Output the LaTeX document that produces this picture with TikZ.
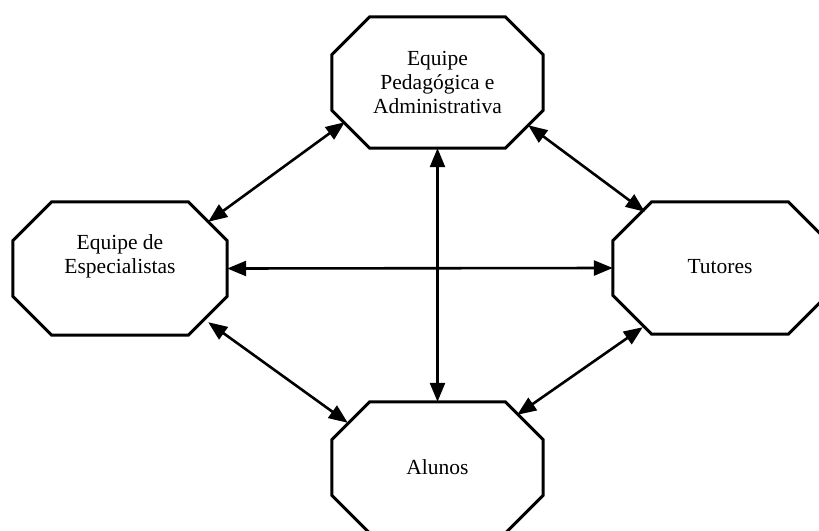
\documentclass[tikz,border=0pt]{standalone}
\usepackage{fontspec}
\setmainfont{Liberation Serif}
\usetikzlibrary{arrows.meta,calc}
\tikzset{
  box/.style={draw=none, rectangle, inner sep=0pt, align=center,
    font=\fontsize{21.5}{24}\selectfont},
  octo/.style={line width=3pt, line join=miter},
  arr/.style={line width=2.6pt, {Triangle[length=19pt,width=15pt]}-{Triangle[length=19pt,width=15pt]}},
}
\newcommand\octagonbox[2]{%
  \draw[octo] ([xshift=#2]#1.north west) -- ([xshift=-#2]#1.north east)
    -- ([yshift=-#2]#1.north east) -- ([yshift=#2]#1.south east)
    -- ([xshift=-#2]#1.south east) -- ([xshift=#2]#1.south west)
    -- ([yshift=#2]#1.south west) -- ([yshift=-#2]#1.north west) -- cycle;}
\begin{document}
\begin{tikzpicture}[x=1pt,y=-1pt]
\useasboundingbox (0,0) rectangle (819,530);
\clip (0,0) rectangle (819,530);
\node[box, minimum width=211pt, minimum height=131pt] (top) at (437.5,82.5) {};
\node[box, minimum width=214pt, minimum height=133pt] (left) at (120,268.5) {};
\node[box, minimum width=214pt, minimum height=132pt] (right) at (720,268) {};
\node[box, minimum width=211pt, minimum height=131pt] (bot) at (437.5,467.5) {};
\octagonbox{top}{38pt}
\octagonbox{left}{39pt}
\octagonbox{right}{39pt}
\octagonbox{bot}{38pt}
\node[box] (ttop) at (437.5,82) {Equipe\\Pedagógica e\\Administrativa};
\node[box] (tleft) at (120,256) {Equipe de\\Especialistas};
\node[box] (tright) at (720,267) {Tutores};
\node[box] (tbot) at (437.5,467) {Alunos};
\draw[arr] ([shift={(-19,20)}]left.north east) -- ([shift={(13,-26)}]top.south west);
\draw[arr] ([shift={(-15,-23)}]top.south east) -- ([shift={(32,10)}]right.north west);
\draw[arr] (left.east) -- (right.west);
\draw[arr] (top.south) -- (bot.north);
\draw[arr] ([shift={(-19,-13)}]left.south east) -- ([shift={(16,21)}]bot.north west);
\draw[arr] ([shift={(30,-7)}]right.south west) -- ([shift={(-26,13)}]bot.north east);
\end{tikzpicture}
\end{document}
